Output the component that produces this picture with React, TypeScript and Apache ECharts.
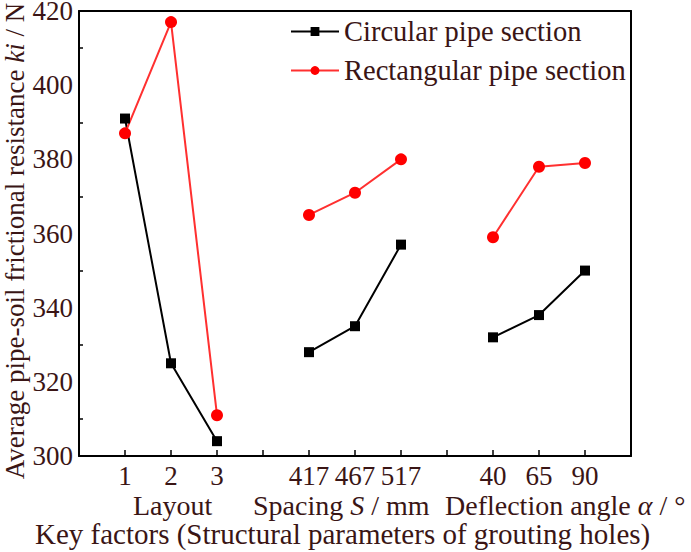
import React, { useEffect, useRef } from "react";
import * as echarts from "echarts";

const categories = ["", "1", "2", "3", "", "417", "467", "517", "", "40", "65", "90", ""];
const circular = [null, 391, 325, 304, null, 328, 335, 357, null, 332, 338, 350, null];
const rectangular = [null, 387, 417, 311, null, 365, 371, 380, null, 359, 378, 379, null];
const yTicks = { min: 300, max: 420, interval: 20 };
const seriesNames = ["Circular pipe section", "Rectangular pipe section"];

const TEXT = "#3a1515";
const FONT = "Liberation Serif";
const TICK_FS = 27;

export default function App() {
  const ref = useRef<HTMLDivElement>(null);
  useEffect(() => {
    const chart = echarts.init(ref.current!, null, { renderer: "svg" });
    chart.setOption({
      animation: false,
      backgroundColor: "#fff",
      textStyle: { fontFamily: FONT, color: TEXT },
      grid: {
        left: 79,
        right: 60,
        top: 11,
        bottom: 96,
        containLabel: false,
        outerBoundsMode: "none",
      },
      legend: {
        orient: "vertical",
        left: 290,
        top: 17,
        padding: 0,
        itemWidth: 48,
        itemHeight: 11,
        itemGap: 10,
        textStyle: { fontFamily: FONT, fontSize: 28.5, color: TEXT },
        data: seriesNames,
      },
      xAxis: [
        {
          type: "category",
          data: categories,
          boundaryGap: false,
          axisLine: { lineStyle: { color: "#000", width: 2 } },
          axisTick: { inside: true, length: 6, lineStyle: { color: "#000", width: 1.5 }, interval: 0 },
          axisLabel: { fontFamily: FONT, fontSize: TICK_FS, lineHeight: 22, color: TEXT, margin: 9, interval: 0 },
          splitLine: { show: false },
        },
        {
          type: "category",
          data: categories,
          boundaryGap: false,
          position: "top",
          axisLine: { lineStyle: { color: "#000", width: 2 } },
          axisTick: { show: false },
          axisLabel: { show: false },
          splitLine: { show: false },
        },
      ],
      yAxis: [
        {
          type: "value",
          min: yTicks.min,
          max: yTicks.max,
          interval: yTicks.interval,
          axisLine: { show: true, lineStyle: { color: "#000", width: 2 } },
          axisTick: { inside: true, length: 6, lineStyle: { color: "#000", width: 1.5 } },
          minorTick: { show: true, splitNumber: 2, length: 4, lineStyle: { color: "#000", width: 1.5 } },
          axisLabel: { fontFamily: FONT, fontSize: TICK_FS, lineHeight: 22, color: TEXT, margin: 6 },
          splitLine: { show: false },
        },
        {
          type: "value",
          min: yTicks.min,
          max: yTicks.max,
          interval: yTicks.interval,
          position: "right",
          axisLine: { show: true, lineStyle: { color: "#000", width: 2 } },
          axisTick: { show: false },
          axisLabel: { show: false },
          splitLine: { show: false },
        },
      ],
      graphic: [
        {
          type: "text",
          x: 15,
          y: 241,
          rotation: Math.PI / 2,
          style: {
            text: "Average pipe-soil frictional resistance {it|ki} / N",
            font: `27px '${FONT}'`,
            fill: TEXT,
            align: "center",
            verticalAlign: "middle",
            rich: { it: { fontFamily: FONT, fontSize: 27, fontStyle: "italic", fill: TEXT } },
          },
        },
        {
          type: "text",
          left: 133,
          top: 491,
          style: { text: "Layout", font: `28px '${FONT}'`, lineHeight: 22, fill: TEXT },
        },
        {
          type: "text",
          left: 253,
          top: 491,
          style: {
            text: "Spacing {it|S} / mm",
            font: `28px '${FONT}'`,
            lineHeight: 22,
            fill: TEXT,
            rich: { it: { fontFamily: FONT, fontSize: 28, lineHeight: 22, fontStyle: "italic", fill: TEXT } },
          },
        },
        {
          type: "text",
          left: 445,
          top: 491,
          style: {
            text: "Deflection angle {it|α} / °",
            font: `28px '${FONT}'`,
            lineHeight: 22,
            fill: TEXT,
            rich: { it: { fontFamily: FONT, fontSize: 28, lineHeight: 22, fontStyle: "italic", fill: TEXT } },
          },
        },
        {
          type: "text",
          left: 35,
          top: 519,
          style: {
            text: "Key factors (Structural parameters of grouting holes)",
            font: `29px '${FONT}'`,
            lineHeight: 24,
            fill: TEXT,
          },
        },
      ],
      series: [
        {
          name: seriesNames[0],
          type: "line",
          data: circular,
          connectNulls: false,
          symbol: "rect",
          symbolSize: 10,
          itemStyle: { color: "#000" },
          lineStyle: { color: "#000", width: 2 },
        },
        {
          name: seriesNames[1],
          type: "line",
          data: rectangular,
          connectNulls: false,
          symbol: "circle",
          symbolSize: 12,
          itemStyle: { color: "#ff0000" },
          lineStyle: { color: "#ff3030", width: 2 },
        },
      ],
    });
    return () => chart.dispose();
  }, []);
  return <div ref={ref} style={{ width: 691, height: 552, position: "absolute", left: 0, top: 0 }} />;
}
